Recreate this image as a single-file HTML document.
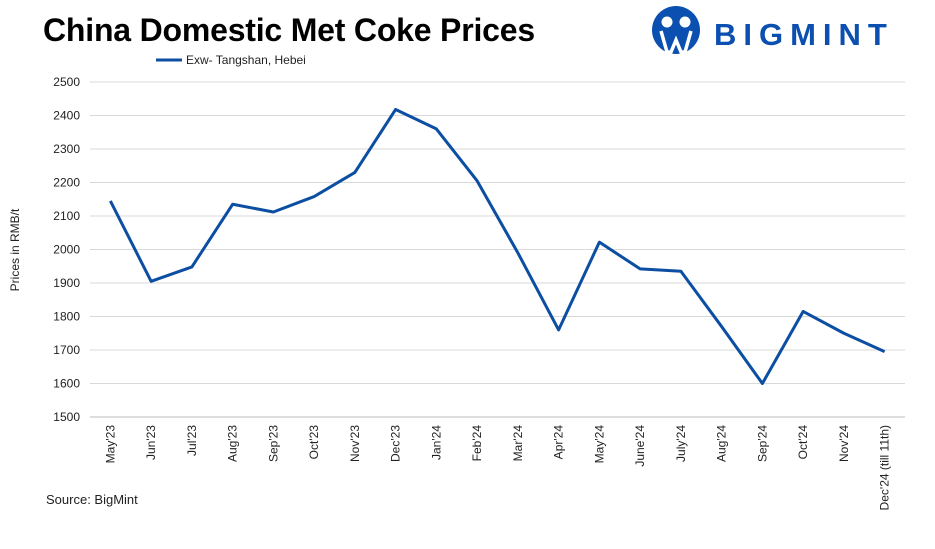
<!DOCTYPE html>
<html><head><meta charset="utf-8"><style>
body{margin:0;background:#fff;width:935px;height:544px;overflow:hidden;font-family:"Liberation Sans",sans-serif}
</style></head><body>
<svg id="chart" width="935" height="544" xmlns="http://www.w3.org/2000/svg">
<text x="43" y="41" font-size="32" font-weight="bold" fill="#000" letter-spacing="-0.2">China Domestic Met Coke Prices</text>
<g>
<circle cx="676" cy="30" r="24" fill="#0b4fb0"/>
<circle cx="667" cy="22" r="5.5" fill="#fff"/><circle cx="685" cy="22" r="5.5" fill="#fff"/>
<path d="M661 31 L667 52 L671 52 L676 40 L681 52 L685 52 L691 31" stroke="#fff" stroke-width="3.5" fill="none"/>
<text x="714" y="45" font-size="31" font-weight="bold" fill="#0b4fb0" letter-spacing="7">BIGMINT</text>
</g>
<g>
<line x1="156" y1="60" x2="182" y2="60" stroke="#0b4ea2" stroke-width="3"/>
<text x="186" y="64" font-size="12" fill="#222">Exw- Tangshan, Hebei</text>
</g>
<text transform="translate(19,250) rotate(-90)" text-anchor="middle" font-size="12" fill="#222">Prices in RMB/t</text>
<g id="grid"></g><g id="yt"></g><g id="xt"></g><g id="ser"></g>
<text x="46" y="504" font-size="13" fill="#222">Source: BigMint</text>
</svg>
<script>
const categories=["May'23","Jun'23","Jul'23","Aug'23","Sep'23","Oct'23","Nov'23","Dec'23","Jan'24","Feb'24","Mar'24","Apr'24","May'24","June'24","July'24","Aug'24","Sep'24","Oct'24","Nov'24","Dec'24 (till 11th)"];
const prices=[2145,1905,1948,2135,2112,2158,2230,2418,2360,2205,1990,1760,2022,1942,1935,1770,1600,1815,1750,1695];
const yTicks=[1500,1600,1700,1800,1900,2000,2100,2200,2300,2400,2500];
const NS="http://www.w3.org/2000/svg";
const x0=90,x1=905,y0=417,y1=82,ymin=1500,ymax=2500;
const step=(x1-x0)/categories.length;
const X=i=>x0+step*(i+0.5);
const Y=v=>y0-(v-ymin)/(ymax-ymin)*(y0-y1);
function mk(t,a,p){const e=document.createElementNS(NS,t);for(const k in a)e.setAttribute(k,a[k]);p.appendChild(e);return e;}
const grid=document.getElementById('grid'),yt=document.getElementById('yt'),xt=document.getElementById('xt'),ser=document.getElementById('ser');
yTicks.forEach(v=>{
 const l=mk('line',{x1:x0,x2:x1,y1:Y(v),y2:Y(v),stroke:v===ymin?'#bbb':'#d9d9d9','stroke-width':1},grid);
 
 
 const t=mk('text',{x:80,y:Y(v)+4,'text-anchor':'end','font-size':12,fill:'#222'},yt);
 t.textContent=v;
 
 
});
categories.forEach((c,i)=>{
 const t=mk('text',{transform:`translate(${X(i)+4},${y0+8}) rotate(-90)`,'text-anchor':'end','font-size':12,fill:'#222'},xt);
 t.textContent=c;
 
 
});
const p=mk('polyline',{points:prices.map((v,i)=>X(i)+','+Y(v)).join(' '),fill:'none',stroke:'#0b4ea2','stroke-width':3,'stroke-linejoin':'round'},ser);


</script>
</body></html>
